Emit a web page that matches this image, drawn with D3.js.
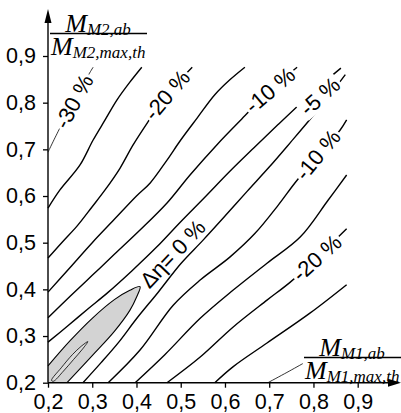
<!DOCTYPE html>
<html>
<head>
<meta charset="utf-8">
<script src="https://cdn.jsdelivr.net/npm/d3@7/dist/d3.min.js"></script>
<style>
body { margin: 0; background: #fff; }
svg { display: block; }
</style>
</head>
<body>
<svg id="chart" width="401" height="413"></svg>
<script>
var tickValues = [0.2, 0.3, 0.4, 0.5, 0.6, 0.7, 0.8, 0.9];

// contour lines above the diagonal (M2 side)
var ul30 = [[0.2,0.694],[0.227,0.746],[0.261,0.806],[0.29,0.857],[0.302,0.876]];
var ul25 = [[0.2,0.574],[0.227,0.613],[0.272,0.666],[0.302,0.72],[0.329,0.763],[0.356,0.806],[0.385,0.844],[0.412,0.876]];
var ul20 = [[0.2,0.467],[0.232,0.501],[0.266,0.536],[0.299,0.576],[0.329,0.613],[0.363,0.66],[0.392,0.709],[0.426,0.759],[0.46,0.806],[0.494,0.844],[0.526,0.876]];
var ul15 = [[0.2,0.394],[0.25,0.447],[0.3,0.5],[0.35,0.55],[0.4,0.6],[0.431,0.628],[0.469,0.677],[0.5,0.72],[0.537,0.767],[0.577,0.817],[0.611,0.849],[0.645,0.876]];
var ul10 = [[0.2,0.339],[0.25,0.385],[0.3,0.43],[0.35,0.475],[0.408,0.527],[0.469,0.585],[0.521,0.645],[0.582,0.71],[0.638,0.765],[0.7,0.825],[0.763,0.876]];
var ul5  = [[0.2,0.287],[0.245,0.322],[0.29,0.358],[0.335,0.393],[0.39,0.44],[0.445,0.49],[0.5,0.545],[0.555,0.598],[0.61,0.652],[0.665,0.703],[0.72,0.753],[0.775,0.802],[0.822,0.842],[0.862,0.874]];

// contour lines below the diagonal (M1 side)
var lr5  = [[0.279,0.2],[0.32,0.243],[0.36,0.287],[0.4,0.337],[0.45,0.395],[0.5,0.455],[0.55,0.505],[0.6,0.557],[0.65,0.61],[0.7,0.662],[0.75,0.717],[0.8,0.773],[0.84,0.82],[0.872,0.86]];
var lr10 = [[0.336,0.2],[0.408,0.27],[0.483,0.366],[0.544,0.42],[0.611,0.469],[0.668,0.52],[0.72,0.58],[0.758,0.628],[0.81,0.688],[0.86,0.741],[0.875,0.763]];
var lr15 = [[0.397,0.2],[0.464,0.26],[0.544,0.338],[0.618,0.398],[0.695,0.456],[0.77,0.512],[0.833,0.591],[0.875,0.645]];
var lr20 = [[0.469,0.2],[0.544,0.255],[0.618,0.319],[0.695,0.377],[0.747,0.415],[0.815,0.473],[0.86,0.516],[0.875,0.53]];
var lr25 = [[0.577,0.2],[0.618,0.234],[0.695,0.285],[0.792,0.349],[0.875,0.41]];
var lr30 = [[0.697,0.2],[0.74,0.222],[0.776,0.241]];

// 0 % contour (grey area) and the small inner loop
var zeroLine = [[0.2,0.236],[0.25,0.29],[0.3,0.338],[0.35,0.378],[0.385,0.398],[0.408,0.406],[0.4,0.383],[0.385,0.355],[0.35,0.31],[0.3,0.258],[0.243,0.2]];
var innerLoop = [[0.208,0.205],[0.23,0.232],[0.255,0.26],[0.275,0.278],[0.29,0.288],[0.278,0.272],[0.258,0.25],[0.235,0.225],[0.212,0.203]];

// contour labels
var labelText = ["-30 %", "-20 %", "-10 %", "-5 %", "-10 %", "-20 %", "\u0394\u03b7= 0 %"];
var labelHost = [ul30, ul20, ul10, ul5, lr10, lr20, ul5];
var labelAt   = [[0.259,null],[0.469,null],[0.702,null],[0.815,0.8135],[0.81,null],[0.808,null],[0.482,0.476]];

var svg = d3.select('#chart');
var x = d3.scaleLinear().domain([0.2, 0.9]).range([48, 357.7]);
var y = d3.scaleLinear().domain([0.2, 0.9]).range([382.7, 56]);
var fmt = function(d){ return d3.format('.1f')(d).replace('.', ','); };

var line = d3.line()
    .x(function(d){ return x(d[0]); })
    .y(function(d){ return y(d[1]); })
    .curve(d3.curveCatmullRom);

// grey area
svg.append('path')
   .attr('d', line(zeroLine) + 'L' + x(0.2) + ',' + y(0.2) + 'Z')
   .attr('fill', '#d3d3d3')
   .attr('stroke', 'none');
svg.append('path')
   .attr('d', line(zeroLine))
   .attr('fill', 'none')
   .attr('stroke', '#000')
   .attr('stroke-width', 1.1);
svg.append('path')
   .attr('d', d3.line().x(function(d){ return x(d[0]); }).y(function(d){ return y(d[1]); })
             .curve(d3.curveCatmullRomClosed)(innerLoop))
   .attr('fill', '#dcdcdc')
   .attr('stroke', '#000')
   .attr('stroke-width', 0.8);

var thick = [ul25, ul20, ul15, ul10, ul5, lr5, lr10, lr15, lr20, lr25];
svg.append('g').selectAll('path')
   .data(thick)
   .enter()
   .append('path')
   .attr('d', line)
   .attr('fill', 'none')
   .attr('stroke', '#000')
   .attr('stroke-width', 1.4);
svg.append('g').selectAll('path')
   .data([ul30, lr30])
   .enter()
   .append('path')
   .attr('d', line)
   .attr('fill', 'none')
   .attr('stroke', '#000')
   .attr('stroke-width', 0.8);

function segAt(pts, xv) {
    var i = 1;
    while (i < pts.length - 1 && pts[i][0] < xv) i++;
    return [pts[i-1], pts[i]];
}
function lineY(pts, xv) {
    var s = segAt(pts, xv);
    var t = (xv - s[0][0]) / (s[1][0] - s[0][0]);
    return s[0][1] + t * (s[1][1] - s[0][1]);
}
function lineAngle(pts, xv) {
    var s = segAt(pts, xv);
    return Math.atan2(y(s[1][1]) - y(s[0][1]), x(s[1][0]) - x(s[0][0])) * 180 / Math.PI;
}

labelText.forEach(function(txt, i){
    var host = labelHost[i];
    var lx = labelAt[i][0];
    var ly = labelAt[i][1] === null ? lineY(host, lx) : labelAt[i][1];
    var g = svg.append('g')
        .attr('transform', 'translate(' + x(lx) + ',' + y(ly) + ') rotate(' + lineAngle(host, lx) + ')');
    var t = g.append('text')
        .attr('text-anchor', 'middle')
        .attr('dominant-baseline', 'central')
        .attr('font-family', 'Liberation Sans, Arial, sans-serif')
        .attr('font-size', 22)
        .attr('fill', '#000')
        .text(txt);
    var bb = t.node().getBBox();
    g.insert('rect', 'text')
        .attr('x', bb.x - 2)
        .attr('y', bb.y + 2)
        .attr('width', bb.width + 4)
        .attr('height', bb.height - 4)
        .attr('fill', '#fff');
});

// axes
var xAxis = svg.append('g')
    .attr('transform', 'translate(0,' + y(0.2) + ')')
    .call(d3.axisBottom(x).tickValues(tickValues).tickFormat(fmt).tickSize(5).tickPadding(6).tickSizeOuter(0));
var yAxis = svg.append('g')
    .attr('transform', 'translate(' + x(0.2) + ',0)')
    .call(d3.axisLeft(y).tickValues(tickValues).tickFormat(fmt).tickSize(5).tickPadding(7).tickSizeOuter(0));
[xAxis, yAxis].forEach(function(a){
    a.select('.domain').remove();
    a.selectAll('line').attr('stroke', '#000').attr('stroke-width', 1.3);
    a.selectAll('text')
     .attr('font-family', 'Liberation Sans, Arial, sans-serif')
     .attr('font-size', 21.5)
     .attr('fill', '#000');
});

svg.append('line')
   .attr('x1', x(0.2)).attr('y1', y(0.2))
   .attr('x2', 390).attr('y2', y(0.2))
   .attr('stroke', '#000').attr('stroke-width', 1.4);
svg.append('line')
   .attr('x1', x(0.2)).attr('y1', y(0.2))
   .attr('x2', x(0.2)).attr('y2', 22)
   .attr('stroke', '#000').attr('stroke-width', 1.4);
svg.append('path')
   .attr('d', 'M401,' + y(0.2) + 'L388,' + (y(0.2) - 4) + 'L388,' + (y(0.2) + 4) + 'Z')
   .attr('fill', '#000');
svg.append('path')
   .attr('d', 'M' + x(0.2) + ',9L' + (x(0.2) - 3.5) + ',23L' + (x(0.2) + 3.5) + ',23Z')
   .attr('fill', '#000');

// axis titles as fractions
function fraction(cx, bx0, bx1, by, num, den) {
    var g = svg.append('g').attr('font-family', 'Liberation Serif, serif').attr('font-style', 'italic').attr('fill', '#000');
    var n = g.append('text').attr('x', cx).attr('y', by - 2).attr('text-anchor', 'middle');
    n.append('tspan').attr('font-size', 26).text('M');
    n.append('tspan').attr('font-size', 17).attr('dy', 3).text(num);
    g.append('line').attr('x1', bx0).attr('x2', bx1).attr('y1', by).attr('y2', by)
        .attr('stroke', '#000').attr('stroke-width', 1.6);
    var d = g.append('text').attr('x', bx0 + 1).attr('y', by + 21);
    d.append('tspan').attr('font-size', 26).text('M');
    d.append('tspan').attr('font-size', 17).attr('dy', 3).text(den);
}
fraction(98, 50, 147, 33.5, 'M2,ab', 'M2,max,th');
fraction(352, 304, 401, 357.5, 'M1,ab', 'M1,max,th');
</script>
</body>
</html>
